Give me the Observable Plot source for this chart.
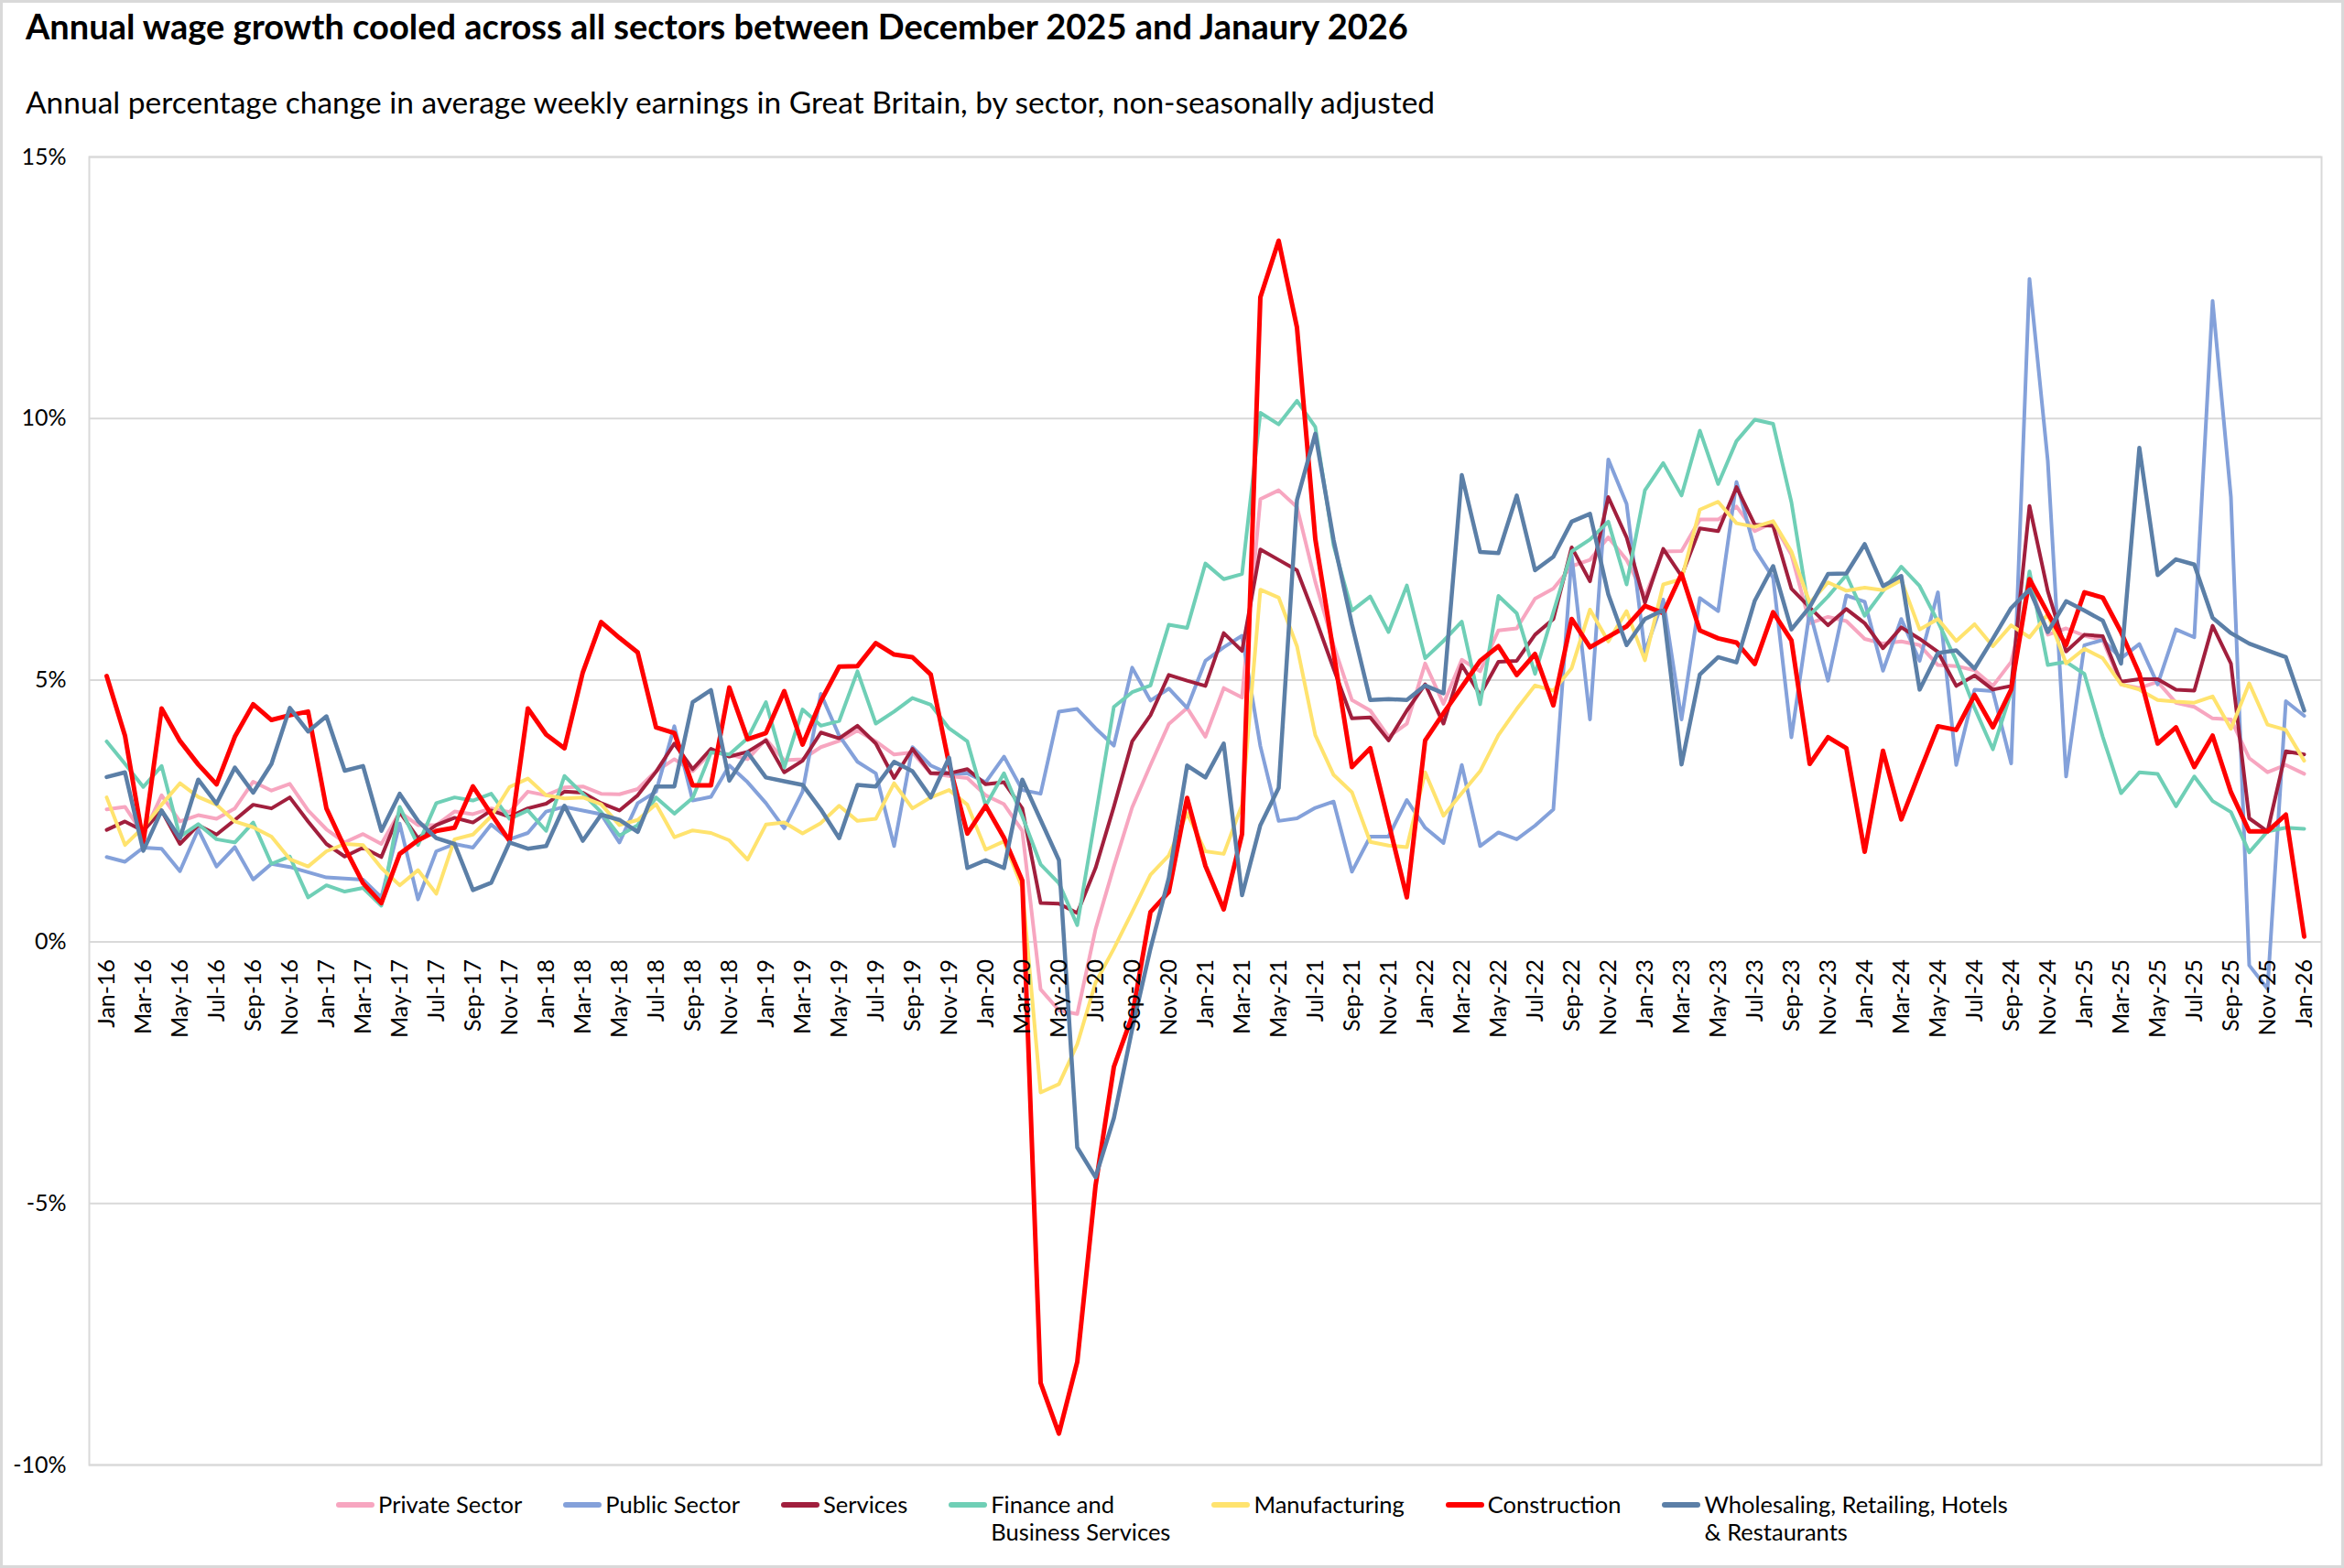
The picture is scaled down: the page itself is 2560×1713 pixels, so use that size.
<!DOCTYPE html>
<html><head><meta charset="utf-8">
<script src="https://cdn.jsdelivr.net/npm/d3@7"></script>
<script src="https://cdn.jsdelivr.net/npm/@observablehq/plot@0.6"></script>
<style>
html,body{margin:0;padding:0;background:#fff;}
body{width:2560px;height:1713px;position:relative;overflow:hidden;font-family:Lato,"Open Sans",sans-serif;color:#000;}
#border{position:absolute;left:0;top:0;width:2560px;height:1713px;box-sizing:border-box;border:3px solid #d9d9d9;pointer-events:none;}
#title{position:absolute;left:28px;top:6px;font-size:38px;font-weight:700;white-space:nowrap;line-height:1.2;}
#subtitle{position:absolute;left:28px;top:91px;font-size:33.5px;white-space:nowrap;line-height:1.2;}
#chart{position:absolute;left:0;top:150px;}
#legend{position:absolute;top:1628px;left:0;width:2560px;display:flex;justify-content:center;gap:45px;font-size:25.5px;line-height:30px;}
.item{display:flex;align-items:flex-start;}
.sw{width:42px;height:6px;margin-top:13px;margin-right:4px;border-radius:3px;}
</style></head>
<body>
<div id="title">Annual wage growth cooled across all sectors between December 2025 and Janaury 2026</div>
<div id="subtitle">Annual percentage change in average weekly earnings in Great Britain, by sector, non-seasonally adjusted</div>
<div id="chart"></div>
<div id="legend"></div>
<div id="border"></div>
<script>
const months = [
"Jan-16","Feb-16","Mar-16","Apr-16","May-16","Jun-16","Jul-16","Aug-16","Sep-16","Oct-16","Nov-16","Dec-16",
"Jan-17","Feb-17","Mar-17","Apr-17","May-17","Jun-17","Jul-17","Aug-17","Sep-17","Oct-17","Nov-17","Dec-17",
"Jan-18","Feb-18","Mar-18","Apr-18","May-18","Jun-18","Jul-18","Aug-18","Sep-18","Oct-18","Nov-18","Dec-18",
"Jan-19","Feb-19","Mar-19","Apr-19","May-19","Jun-19","Jul-19","Aug-19","Sep-19","Oct-19","Nov-19","Dec-19",
"Jan-20","Feb-20","Mar-20","Apr-20","May-20","Jun-20","Jul-20","Aug-20","Sep-20","Oct-20","Nov-20","Dec-20",
"Jan-21","Feb-21","Mar-21","Apr-21","May-21","Jun-21","Jul-21","Aug-21","Sep-21","Oct-21","Nov-21","Dec-21",
"Jan-22","Feb-22","Mar-22","Apr-22","May-22","Jun-22","Jul-22","Aug-22","Sep-22","Oct-22","Nov-22","Dec-22",
"Jan-23","Feb-23","Mar-23","Apr-23","May-23","Jun-23","Jul-23","Aug-23","Sep-23","Oct-23","Nov-23","Dec-23",
"Jan-24","Feb-24","Mar-24","Apr-24","May-24","Jun-24","Jul-24","Aug-24","Sep-24","Oct-24","Nov-24","Dec-24",
"Jan-25","Feb-25","Mar-25","Apr-25","May-25","Jun-25","Jul-25","Aug-25","Sep-25","Oct-25","Nov-25","Dec-25",
"Jan-26"];

const privateSector = [
2.53,2.58,2.05,2.80,2.30,2.42,2.35,2.55,3.06,2.89,3.02,2.51,
2.15,1.90,2.06,1.87,2.48,2.23,2.23,2.49,2.44,2.55,2.48,2.87,
2.80,2.95,2.97,2.83,2.82,2.92,3.26,3.49,3.26,3.62,3.58,3.49,
3.87,3.47,3.49,3.72,3.84,4.04,3.83,3.58,3.62,3.22,3.17,3.13,
2.80,2.63,2.12,-0.91,-1.31,-1.38,0.24,1.44,2.57,3.38,4.16,4.47,
3.92,4.85,4.67,8.46,8.63,8.31,6.88,5.67,4.62,4.42,3.92,4.17,
5.32,4.55,5.39,5.17,5.95,5.99,6.56,6.75,7.18,7.30,7.73,7.30,
6.60,7.46,7.47,8.07,8.07,8.32,7.85,8.01,7.40,6.09,6.21,6.13,
5.79,5.70,5.74,5.67,5.29,5.27,5.19,4.89,5.35,6.85,5.87,5.99,
5.85,5.77,4.92,4.85,4.97,4.57,4.49,4.27,4.25,3.51,3.24,3.38,
3.21];

const publicSector = [
1.62,1.53,1.80,1.78,1.35,2.15,1.44,1.81,1.19,1.49,1.43,1.33,
1.23,1.21,1.19,0.85,2.26,0.81,1.73,1.87,1.80,2.24,1.96,2.08,
2.49,2.58,2.51,2.44,1.90,2.65,2.87,4.12,2.70,2.77,3.37,3.05,
2.65,2.17,2.87,4.74,3.94,3.44,3.22,1.83,3.72,3.37,3.21,3.22,
3.05,3.54,2.90,2.83,4.40,4.45,4.08,3.75,5.24,4.61,4.84,4.47,
5.37,5.63,5.85,3.74,2.31,2.36,2.56,2.68,1.34,2.01,2.01,2.71,
2.18,1.89,3.38,1.83,2.09,1.96,2.22,2.53,7.38,4.25,9.22,8.37,
5.54,6.54,4.25,6.57,6.32,8.79,7.50,6.96,3.91,6.32,4.99,6.62,
6.50,5.18,6.17,5.37,6.68,3.38,4.82,4.79,3.41,12.67,9.19,3.16,
5.67,5.77,5.42,5.69,4.92,5.97,5.82,12.25,8.50,-0.45,-0.90,4.60,
4.32];

const services = [
2.14,2.30,2.12,2.51,1.87,2.23,2.05,2.33,2.62,2.55,2.76,2.30,
1.87,1.63,1.80,1.62,2.48,1.98,2.23,2.37,2.28,2.51,2.39,2.55,
2.64,2.87,2.85,2.65,2.51,2.80,3.25,3.79,3.30,3.69,3.54,3.63,
3.85,3.24,3.46,4.00,3.89,4.13,3.79,3.13,3.69,3.22,3.22,3.30,
3.01,3.05,2.55,0.74,0.73,0.55,1.41,2.58,3.83,4.33,5.10,4.99,
4.89,5.90,5.56,7.50,7.30,7.10,6.19,5.22,4.27,4.29,3.85,4.42,
4.92,4.17,5.29,4.72,5.35,5.37,5.87,6.17,7.54,6.89,8.50,7.73,
6.48,7.51,6.99,7.90,7.85,8.69,7.97,7.95,6.75,6.39,6.05,6.36,
6.09,5.61,6.01,5.79,5.54,4.89,5.09,4.82,4.89,8.33,6.70,5.55,
5.87,5.84,4.97,5.02,5.02,4.82,4.80,6.04,5.32,2.36,2.11,3.64,
3.58];

const finance = [
3.83,3.40,2.96,3.36,2.01,2.25,1.96,1.90,2.28,1.49,1.63,0.85,
1.08,0.96,1.03,0.69,2.58,1.85,2.65,2.76,2.70,2.83,2.35,2.51,
2.12,3.17,2.83,2.48,2.03,2.23,2.76,2.45,2.75,3.62,3.58,3.89,
4.58,3.33,4.44,4.13,4.22,5.17,4.17,4.40,4.66,4.53,4.08,3.83,
2.60,3.22,2.40,1.48,1.12,0.32,2.40,4.49,4.77,4.90,6.06,6.00,
7.23,6.93,7.03,10.11,9.89,10.34,9.84,7.58,6.33,6.60,5.92,6.81,
5.42,5.75,6.12,4.54,6.61,6.28,5.12,6.30,7.46,7.69,8.03,6.83,
8.63,9.15,8.53,9.77,8.75,9.57,9.98,9.90,8.40,6.24,6.60,7.01,
6.23,6.70,7.17,6.80,6.12,5.37,4.47,3.68,4.77,7.08,5.29,5.35,
5.12,3.92,2.84,3.24,3.21,2.59,3.16,2.69,2.48,1.71,2.11,2.18,
2.16];

const manufacturing = [
2.76,1.85,2.19,2.62,3.03,2.77,2.62,2.30,2.19,2.01,1.58,1.44,
1.73,1.87,1.85,1.41,1.08,1.37,0.92,1.96,2.05,2.40,2.96,3.12,
2.80,2.74,2.76,2.63,2.23,2.33,2.63,2.00,2.13,2.08,1.94,1.57,
2.24,2.28,2.07,2.27,2.60,2.31,2.35,3.03,2.55,2.76,2.90,2.62,
1.76,1.92,1.03,-2.88,-2.72,-1.96,-0.78,-0.13,0.57,1.28,1.65,2.46,
1.73,1.68,2.62,6.73,6.58,5.65,3.95,3.19,2.86,1.91,1.84,1.81,
3.24,2.41,2.84,3.26,3.95,4.45,4.90,4.80,5.23,6.35,5.74,6.32,
5.38,6.83,6.93,8.26,8.41,8.00,7.93,8.04,7.46,6.48,6.87,6.71,
6.77,6.72,6.91,5.97,6.17,5.75,6.07,5.65,6.05,5.82,6.26,5.32,
5.60,5.42,4.92,4.82,4.62,4.59,4.57,4.69,4.07,4.94,4.15,4.05,
3.46];

const construction = [
5.08,3.94,1.90,4.46,3.84,3.39,3.01,3.92,4.54,4.24,4.33,4.40,
2.55,1.80,1.12,0.74,1.68,1.94,2.12,2.18,2.97,2.44,1.93,4.46,
3.96,3.70,5.15,6.11,5.81,5.53,4.10,3.99,2.99,2.99,4.86,3.87,
3.99,4.79,3.77,4.60,5.26,5.27,5.71,5.49,5.44,5.11,3.40,2.07,
2.60,1.99,1.17,-8.43,-9.40,-8.03,-4.66,-2.39,-1.42,0.57,0.95,2.75,
1.45,0.62,2.06,12.32,13.40,11.74,7.70,5.52,3.34,3.70,2.28,0.85,
3.85,4.37,4.87,5.37,5.65,5.10,5.50,4.52,6.17,5.63,5.83,6.03,
6.42,6.28,7.03,5.95,5.80,5.72,5.31,6.30,5.76,3.40,3.91,3.70,
1.72,3.65,2.34,3.24,4.12,4.05,4.72,4.10,4.82,6.93,6.28,5.67,
6.68,6.58,5.92,5.12,3.79,4.10,3.34,3.94,2.86,2.11,2.11,2.43,
0.10];

const wholesaling = [
3.15,3.24,1.74,2.51,1.98,3.10,2.64,3.33,2.85,3.40,4.47,4.02,
4.31,3.27,3.36,2.12,2.83,2.31,1.98,1.87,0.99,1.13,1.90,1.78,
1.83,2.60,1.93,2.43,2.33,2.10,2.97,2.97,4.58,4.81,3.08,3.62,
3.14,3.07,3.00,2.53,1.98,3.00,2.97,3.44,3.26,2.76,3.52,1.41,
1.56,1.41,3.10,2.33,1.56,-3.93,-4.50,-3.37,-1.67,-0.13,1.22,3.37,
3.14,3.79,0.89,2.23,2.94,8.44,9.71,7.68,6.07,4.62,4.64,4.62,
4.90,4.75,8.92,7.45,7.43,8.53,7.10,7.36,8.03,8.18,6.64,5.67,
6.17,6.34,3.39,5.11,5.44,5.34,6.52,7.18,5.97,6.40,7.03,7.04,
7.60,6.80,6.99,4.82,5.52,5.57,5.22,5.79,6.38,6.73,5.92,6.51,
6.33,6.14,5.32,9.44,7.01,7.31,7.21,6.19,5.90,5.70,5.57,5.44,
4.42];

const seriesNames = ["Private Sector","Public Sector","Services","Finance and\nBusiness Services","Manufacturing","Construction","Wholesaling, Retailing, Hotels\n& Restaurants"];
const seriesValues = [privateSector, publicSector, services, finance, manufacturing, construction, wholesaling];
const seriesColors = ["#F7A6C0","#84A1DA","#A11F3D","#6FCFB6","#FFE36E","#FF0000","#5B7FA7"];
const seriesWidths = [4,4,4,4,4,5,4.5];

const yTicks = [-10,-5,0,5,10,15];
const tickLabels = months.filter((d,i) => i % 2 === 0);

const lineMarks = seriesValues.map((vals, k) =>
  Plot.line(vals.map((v,i) => ({month: months[i], value: v})), {
    x: "month", y: "value", stroke: seriesColors[k], strokeWidth: seriesWidths[k],
    strokeLinejoin: "round", strokeLinecap: "round"
  })
);

const chart = Plot.plot({
  width: 2560, height: 1470,
  marginTop: 21, marginBottom: 20, marginLeft: 97, marginRight: 25,
  style: {fontFamily: "Lato, 'Open Sans', sans-serif", fontSize: "25px", color: "#000", background: "#fff"},
  x: {type: "point", domain: months, padding: 0.5, axis: null},
  y: {domain: [-10, 15], axis: null},
  marks: [
    Plot.gridY(yTicks, {stroke: "#d9d9d9", strokeOpacity: 1, strokeWidth: 2}),
    Plot.frame({stroke: "#d9d9d9", strokeWidth: 2}),
    Plot.axisY(yTicks, {tickSize: 0, tickPadding: 25, tickFormat: d => `${d}%`, fontSize: 25, label: null, fill: "#000"}),
    ...lineMarks,
    Plot.text(tickLabels, {x: d => d, y: () => 0, text: d => d, rotate: -90, textAnchor: "end", dy: 19, fontSize: 25, fill: "#000"})
  ]
});
document.getElementById("chart").appendChild(chart);

const legend = document.getElementById("legend");
seriesNames.forEach((name, k) => {
  const item = document.createElement("div");
  item.className = "item";
  const sw = document.createElement("div");
  sw.className = "sw";
  sw.style.background = seriesColors[k];
  const label = document.createElement("div");
  label.innerHTML = name.split("\n").join("<br>");
  item.appendChild(sw);
  item.appendChild(label);
  legend.appendChild(item);
});
</script>
</body></html>
